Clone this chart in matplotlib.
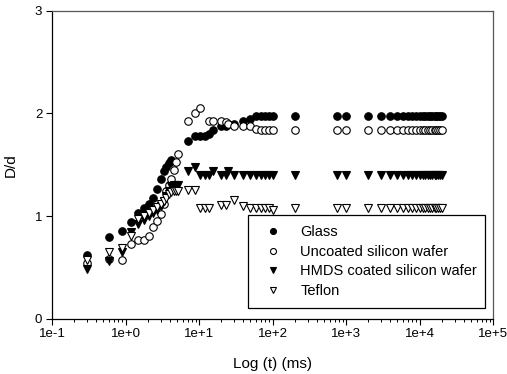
import numpy as np
import matplotlib
matplotlib.use("Agg")
import matplotlib.pyplot as plt
from matplotlib.ticker import LogLocator, FixedLocator, FuncFormatter, NullFormatter

nan = np.nan

# Time axis (ms): fast early sampling, then sparser sampling at long times
times_early = [0.3, 0.6, 0.9, 1.2, 1.5, 1.8, 2.1, 2.4, 2.7, 3.0, 3.3, 3.6,
               3.9, 4.2, 4.5, 4.8, 5.1]
times_late = [7.0, 8.8, 10.3, 12.0, 13.7, 15.3, 20, 23, 25, 30, 40, 50, 60,
              70, 80, 90, 100, 200, 750, 1000, 2000, 3000, 4000, 5000, 6000,
              7000, 8000, 9000, 10000, 11000, 12000, 13000, 14000, 15000,
              16000, 17000, 18000, 19000, 20000]

# Spreading ratio D/d for each substrate
glass_early = [0.62, 0.80, 0.85, 0.94, 1.03, 1.08, 1.12, 1.18, 1.26, 1.36,
               1.44, 1.48, 1.52, 1.55, nan, nan, nan]
glass_late = [1.73, 1.78, 1.78, 1.78, 1.80, 1.84, 1.88, 1.88, 1.90, 1.90,
              1.93, 1.95, 1.97, 1.97, 1.97, 1.97, 1.97, 1.97, 1.97, 1.97,
              1.97, 1.97, 1.97, 1.97, 1.97, 1.97, 1.97, 1.97, 1.97, 1.97,
              1.97, 1.97, 1.97, 1.97, 1.97, 1.97, 1.97, 1.97, 1.97]

uncoated_early = [0.54, 0.58, 0.57, 0.73, 0.77, 0.77, 0.81, 0.89, 0.95, 1.02,
                  1.12, 1.24, 1.30, 1.36, 1.45, 1.53, 1.60]
uncoated_late = [1.93, 2.00, 2.05, nan, 1.93, 1.93, 1.93, 1.92, 1.90, 1.88,
                 1.88, 1.88, 1.85, 1.84, 1.84, 1.84, 1.84, 1.84, 1.84, 1.84,
                 1.84, 1.84, 1.84, 1.84, 1.84, 1.84, 1.84, 1.84, 1.84, 1.84,
                 1.84, 1.84, 1.84, 1.84, 1.84, 1.84, 1.84, 1.84, 1.84]

hmds_early = [0.48, 0.56, 0.65, 0.84, 0.92, 0.96, 1.00, 1.03, 1.06, 1.10,
              1.15, 1.20, 1.24, 1.29, 1.30, 1.30, 1.30]
hmds_late = [1.44, 1.48, 1.40, 1.40, 1.40, 1.44, 1.40, 1.40, 1.44, 1.40,
             1.40, 1.40, 1.40, 1.40, 1.40, 1.40, 1.40, 1.40, 1.40, 1.40,
             1.40, 1.40, 1.40, 1.40, 1.40, 1.40, 1.40, 1.40, 1.40, 1.40,
             1.40, 1.40, 1.40, 1.40, 1.40, 1.40, 1.40, 1.40, 1.40]

teflon_early = [0.57, 0.65, 0.69, 0.81, 0.97, 1.00, 1.03, 1.06, 1.09, 1.12,
                1.15, 1.18, 1.21, 1.23, 1.24, 1.24, 1.24]
teflon_late = [1.25, 1.25, 1.075, 1.075, 1.075, nan, 1.11, 1.11, nan, 1.16,
               1.10, 1.075, 1.075, 1.075, 1.075, 1.075, 1.06, 1.075, 1.075,
               1.075, 1.075, 1.075, 1.075, 1.075, 1.075, 1.075, 1.075, 1.075,
               1.075, 1.075, 1.075, 1.075, 1.075, 1.075, 1.075, 1.075, 1.075,
               1.075, 1.075]

series_labels = ["Glass", "Uncoated silicon wafer", "HMDS coated silicon wafer", "Teflon"]
x_tick_values = [1e-1, 1e0, 1e1, 1e2, 1e3, 1e4, 1e5]
x_tick_labels = ["1e-1", "1e+0", "1e+1", "1e+2", "1e+3", "1e+4", "1e+5"]
y_tick_values = [0, 1, 2, 3]

plt.rcParams["font.family"] = ["Liberation Sans", "DejaVu Sans"]

fig = plt.figure(figsize=(5.07, 3.74), dpi=100)
ax = fig.add_axes([52 / 507, 55.3 / 374, 441 / 507, 308 / 374])

t = np.array(times_early + times_late)
styles = [
    (glass_early + glass_late, "o", "black"),
    (uncoated_early + uncoated_late, "o", "white"),
    (hmds_early + hmds_late, "v", "black"),
    (teflon_early + teflon_late, "v", "white"),
]
handles = []
for (vals, mk, fc), lab in zip(styles, series_labels):
    h, = ax.plot(t, np.array(vals), linestyle="none", marker=mk, ms=5.4,
                 mfc=fc, mec="black", mew=0.8, label=lab)
    handles.append(h)

ax.set_xscale("log")
ax.set_xlim(1e-1, 1e5)
ax.set_ylim(0, 3)

ax.xaxis.set_major_locator(FixedLocator(x_tick_values))
ax.xaxis.set_major_formatter(FuncFormatter(
    lambda v, p: x_tick_labels[x_tick_values.index(v)] if v in x_tick_values else ""))
ax.xaxis.set_minor_locator(LogLocator(base=10, subs=np.arange(2, 10), numticks=20))
ax.xaxis.set_minor_formatter(NullFormatter())
ax.yaxis.set_major_locator(FixedLocator(y_tick_values))

ax.tick_params(axis="both", which="major", direction="out", length=4, width=0.8,
               labelsize=9.5, colors="black", top=False, right=False, pad=3)
ax.tick_params(axis="x", which="minor", direction="out", length=2.5, width=0.7,
               top=False)

for side in ("left", "bottom"):
    ax.spines[side].set_color("black")
    ax.spines[side].set_linewidth(0.9)
for side in ("top", "right"):
    ax.spines[side].set_color("#555555")
    ax.spines[side].set_linewidth(0.9)

ax.set_xlabel("Log (t) (ms)", fontsize=11, labelpad=12)
ax.set_ylabel("D/d", fontsize=11, labelpad=12)

leg = ax.legend(handles=handles, loc="lower left",
                bbox_to_anchor=(0.444, 0.034, 0.538, 0.284), mode="expand",
                fontsize=10.5, frameon=True, fancybox=False, framealpha=1,
                edgecolor="black", borderpad=0.7, labelspacing=0.38,
                handlelength=2.0, handletextpad=0.9, markerscale=0.8,
                borderaxespad=0)
leg.get_frame().set_linewidth(0.9)

fig.savefig("out.png", dpi=100)
